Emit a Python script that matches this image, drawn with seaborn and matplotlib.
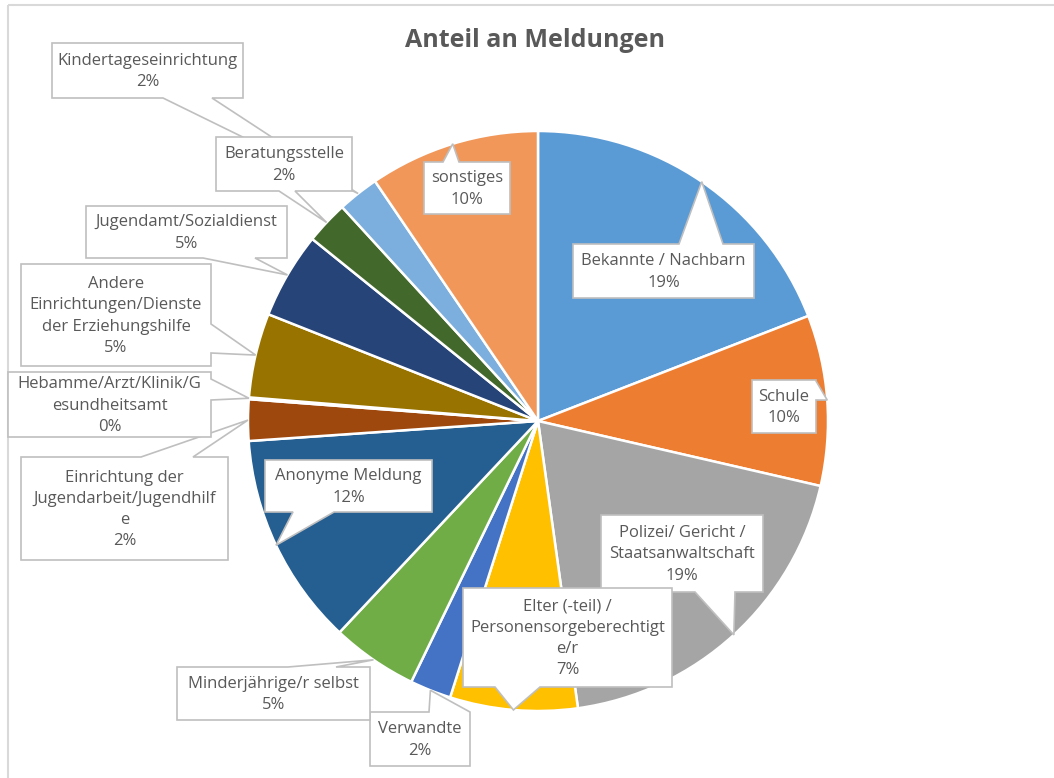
import numpy as np
import matplotlib
matplotlib.use("Agg")
import matplotlib.pyplot as plt
import seaborn as sns
from matplotlib.patches import Polygon, Rectangle

# slices, clockwise from 12 o'clock
categories = [
    "Bekannte / Nachbarn",
    "Schule",
    "Polizei/ Gericht /\nStaatsanwaltschaft",
    "Elter (-teil) /\nPersonensorgeberechtigt\ne/r",
    "Verwandte",
    "Minderjährige/r selbst",
    "Anonyme Meldung",
    "Einrichtung der\nJugendarbeit/Jugendhilf\ne",
    "Hebamme/Arzt/Klinik/G\nesundheitsamt",
    "Andere\nEinrichtungen/Dienste\nder Erziehungshilfe",
    "Jugendamt/Sozialdienst",
    "Beratungsstelle",
    "Kindertageseinrichtung",
    "sonstiges",
]
shares = [19.1, 9.5, 19.2, 7.1, 2.3, 4.8, 11.9, 2.3, 0.1, 4.7, 4.8, 2.4, 2.3, 9.5]
colors = ["#5B9BD5", "#ED7D31", "#A5A5A5", "#FFC000", "#4472C4", "#70AD47",
          "#255E91", "#9E480E", "#636363", "#997300", "#264478", "#43682B",
          "#7CAFDD", "#F1975A"]

# callout layout in pixels: box (x0, y0, x1, y1), side of the pointer, pointer base
callouts = [
    ((573, 244, 754, 298), "top", (679, 723)),
    ((752, 380, 816, 433), "right", (381, 400)),
    ((601, 515, 763, 592), "bottom", (695, 735)),
    ((463, 588, 672, 687), "bottom", (495, 540)),
    ((370, 712, 470, 766), "top", (429, 470)),
    ((177, 667, 370, 720), "top", (288, 336)),
    ((265, 460, 432, 512), "bottom", (293, 334)),
    ((21, 457, 228, 560), "top", (141, 193)),
    ((8, 372, 211, 437), "right", (379, 400)),
    ((21, 264, 211, 366), "right", (324, 353)),
    ((86, 206, 287, 258), "bottom", (203, 255)),
    ((216, 137, 352, 191), "bottom", (279, 295)),
    ((52, 43, 243, 98), "bottom", (163, 212)),
    ((424, 162, 510, 214), "top", (443, 459)),
]
# drawing order so that overlapping boxes stack like the original
draw_order = [12, 11, 10, 9, 7, 8, 0, 1, 2, 3, 4, 5, 6, 13]

W, H = 1054, 778
CENTER = (538, 421)
RADIUS = 290
TEXT = "#595959"
EDGE = "#BFBFBF"


def callout_shape(box, side, base, tip):
    x0, y0, x1, y1 = box
    a, b = base
    if side == "top":
        pts = [(x0, y0), (a, y0), tip, (b, y0), (x1, y0), (x1, y1), (x0, y1)]
    elif side == "bottom":
        pts = [(x0, y0), (x1, y0), (x1, y1), (b, y1), tip, (a, y1), (x0, y1)]
    elif side == "right":
        pts = [(x0, y0), (x1, y0), (x1, a), tip, (x1, b), (x1, y1), (x0, y1)]
    else:
        pts = [(x0, y0), (x1, y0), (x1, y1), (x0, y1), (x0, b), tip, (x0, a)]
    return pts


sns.set_theme(style="white")
plt.rcParams['font.family'] = ['Open Sans', 'DejaVu Sans']

fig = plt.figure(figsize=(W / 100, H / 100), dpi=100)
ax = fig.add_axes([0, 0, 1, 1])

palette = sns.color_palette(colors)
# y axis is flipped below, so counterclock in data space runs clockwise on screen
wedges, _ = ax.pie(shares, colors=palette, startangle=-90, counterclock=True,
                   center=CENTER, radius=RADIUS,
                   wedgeprops=dict(edgecolor="white", linewidth=1.8))
ax.set_xlim(0, W)
ax.set_ylim(H, 0)
ax.set_aspect("auto")
ax.axis("off")

# outer chart frame
ax.add_patch(Rectangle((8, 5), W, H, fill=False, edgecolor="#D9D9D9", linewidth=1.5))

ax.text(535, 40, "Anteil an Meldungen", ha="center", va="center",
        fontsize=18, fontweight="bold", color=TEXT)

total = sum(shares)
for i in draw_order:
    w = wedges[i]
    mid = np.deg2rad((w.theta1 + w.theta2) / 2)
    tip = (CENTER[0] + RADIUS * np.cos(mid), CENTER[1] + RADIUS * np.sin(mid))
    box, side, base = callouts[i]
    pts = callout_shape(box, side, base, tip)
    ax.add_patch(Polygon(pts, closed=True, facecolor="white", edgecolor=EDGE,
                         linewidth=1.2, zorder=5, joinstyle="miter"))
    label = f"{categories[i]}\n{round(shares[i] / total * 100)}%"
    ax.text((box[0] + box[2]) / 2, (box[1] + box[3]) / 2 + 1, label,
            ha="center", va="center", fontsize=12, color=TEXT,
            linespacing=1.43, zorder=6)

fig.savefig("out.png", dpi=100)
